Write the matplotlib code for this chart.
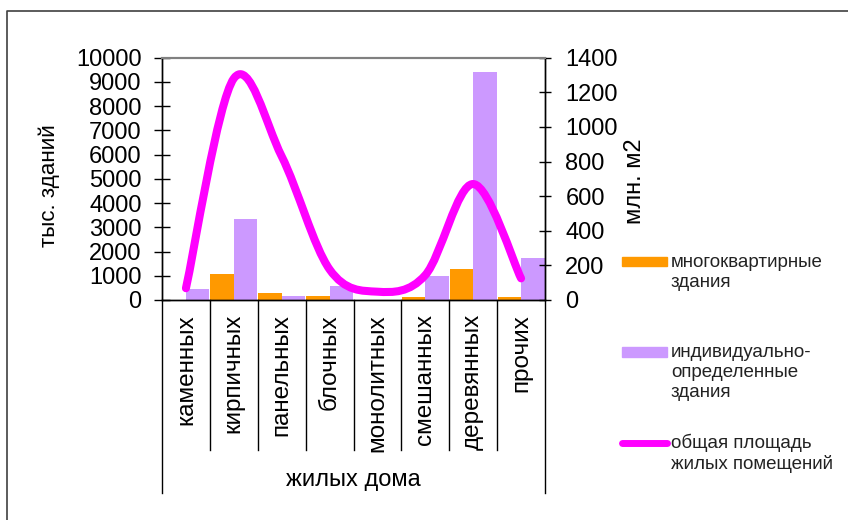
import numpy as np
import matplotlib
matplotlib.use("Agg")
import matplotlib.pyplot as plt
from matplotlib.path import Path
from matplotlib.patches import PathPatch, Rectangle
from matplotlib.lines import Line2D
import matplotlib.transforms as mtransforms

plt.rcParams['font.family'] = ['Liberation Sans', 'DejaVu Sans']

# data
categories = ['каменных', 'кирпичных', 'панельных', 'блочных',
              'монолитных', 'смешанных', 'деревянных', 'прочих']
multi_apart = [0, 1070, 290, 150, 10, 110, 1270, 110]        # тыс. зданий
individual = [440, 3340, 150, 565, 10, 990, 9420, 1730]      # тыс. зданий
living_area = [68, 1280, 830, 177, 48, 144, 670, 125]        # млн. м2
left_ticks = [0, 1000, 2000, 3000, 4000, 5000, 6000, 7000, 8000, 9000, 10000]
right_ticks = [0, 200, 400, 600, 800, 1000, 1200, 1400]
legend_labels = ['многоквартирные\nздания',
                 'индивидуально-\nопределенные\nздания',
                 'общая площадь\nжилых помещений']

ORANGE = '#FF9900'
PURPLE = '#CC99FF'
MAGENTA = '#FF00FF'

W, H = 848, 520
fig = plt.figure(figsize=(W / 100, H / 100), dpi=100)


def fx(px):
    return px / W


def fy(py):
    return 1 - py / H


ax = fig.add_axes([fx(162), fy(300), (545 - 162) / W, (300 - 57.7) / H])
ax2 = ax.twinx()

x = np.arange(len(categories))
bw = 0.49
ax.bar(x - bw / 2, multi_apart, width=bw, color=ORANGE, zorder=2)
ax.bar(x + bw / 2, individual, width=bw, color=PURPLE, zorder=2)

ax.set_xlim(-0.5, len(categories) - 0.5)
ax.set_ylim(0, 10000)
ax.set_yticks(left_ticks)
ax.set_xticks([])
ax.tick_params(axis='y', direction='inout', length=12, width=1, labelsize=17, pad=8.6)

ax2.set_ylim(0, 1400)
ax2.set_yticks(right_ticks)
ax2.tick_params(axis='y', direction='inout', length=8, width=1, labelsize=17, pad=10.6)

for a in (ax, ax2):
    a.spines['top'].set_color('#808080')
    a.spines['top'].set_linewidth(1.5)
    for s in ('left', 'right', 'bottom'):
        a.spines[s].set_color('black')
        a.spines[s].set_linewidth(1.0)

# smoothed line (Bezier through the category points)
pts = np.column_stack([x, living_area]).astype(float)
n = len(pts)
verts = [pts[0]]
codes = [Path.MOVETO]
for i in range(n - 1):
    p0 = pts[max(i - 1, 0)]
    p1 = pts[i]
    p2 = pts[i + 1]
    p3 = pts[min(i + 2, n - 1)]
    c1 = p1 + (p2 - p0) / 6
    c2 = p2 - (p3 - p1) / 6
    verts += [c1, c2, p2]
    codes += [Path.CURVE4] * 3
ax2.add_patch(PathPatch(Path(verts, codes), fill=False, edgecolor=MAGENTA,
                        lw=5.8, capstyle='round', joinstyle='round', zorder=3))

# category axis: separators, rotated labels, group label
trans = mtransforms.blended_transform_factory(ax.transData, ax.transAxes)
ax_h = 300 - 57.7
inner_bottom = -(450 - 300) / ax_h
outer_bottom = -(493 - 300) / ax_h
for b in np.arange(-0.5, len(categories), 1.0):
    yb = outer_bottom if b in (-0.5, len(categories) - 0.5) else inner_bottom
    ax.plot([b, b], [0, yb], color='black', lw=1.0, transform=trans, clip_on=False)
for i, c in enumerate(categories):
    ax.text(i, -(314 - 300) / ax_h, c, rotation=90, ha='center', va='top',
            fontsize=17.5, transform=trans)
ax.text((len(categories) - 1) / 2, -(480 - 300) / ax_h, 'жилых дома', ha='center',
        va='center', fontsize=17, transform=trans)

# axis titles
fig.text(fx(49), fy(186), 'тыс. зданий', rotation=90, ha='center', va='center', fontsize=16.2)
fig.text(fx(635), fy(181), 'млн. м2', rotation=90, ha='center', va='center', fontsize=17)

# legend
fig.add_artist(Rectangle((fx(622), fy(266)), 45 / W, 9 / H, color=ORANGE,
                         transform=fig.transFigure))
fig.add_artist(Rectangle((fx(622), fy(357)), 45 / W, 10 / H, color=PURPLE,
                         transform=fig.transFigure))
fig.add_artist(Line2D([fx(622), fx(667)], [fy(443), fy(443)], color=MAGENTA, lw=5,
                      solid_capstyle='round', transform=fig.transFigure))
for (ytop, lab) in zip([254, 344, 434], legend_labels):
    fig.text(fx(671), fy(ytop), lab, ha='left', va='top', fontsize=13.5,
             linespacing=1.22, color='#222222')

# chart border
fig.add_artist(Line2D([fx(7), fx(7), fx(848)], [fy(520), fy(11), fy(11)],
                      color='#404040', lw=1.2, transform=fig.transFigure))

fig.savefig('out.png', dpi=100)
